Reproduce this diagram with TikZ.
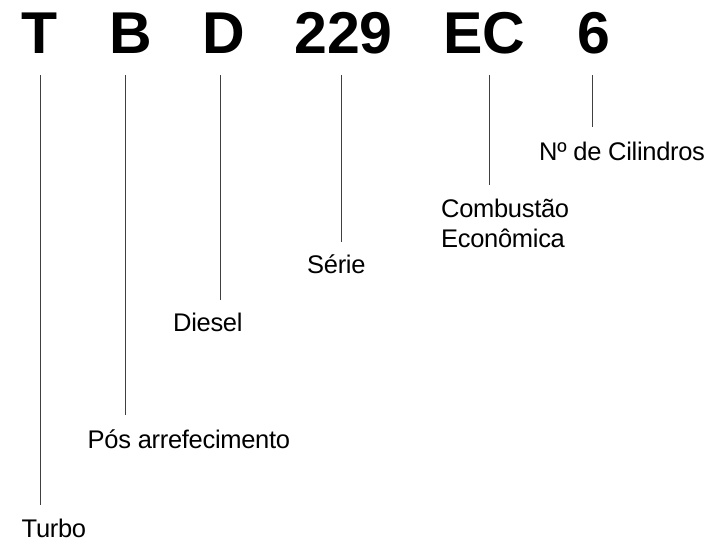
\documentclass[tikz,border=0pt]{standalone}
\usepackage{fontspec}
\setmainfont{Liberation Sans}
\begin{document}
\begin{tikzpicture}[x=1pt,y=-1pt,
  code/.style={font=\fontsize{59}{59}\selectfont\bfseries, inner sep=0pt, anchor=base},
  lbl/.style={font=\fontsize{25.5}{30}\selectfont\addfontfeature{LetterSpace=-1.2}, inner sep=0pt, anchor=base west},
  lead/.style={draw=black!75, line width=0.9pt}]
\useasboundingbox (0,0) rectangle (726,542);
% code letters
\node[code] (cT) at (40,53) {T};
\node[code] (cB) at (130.5,53) {B};
\node[code] (cD) at (223.5,53) {D};
\node[code] (c229) at (343.5,53) {229};
\node[code] (cEC) at (484,53) {EC};
\node[code] (c6) at (594,53) {6};
% labels
\node[lbl] (lTurbo) at (21.5,537) {Turbo};
\node[lbl] (lPos) at (87.5,448) {Pós arrefecimento};
\node[lbl] (lDiesel) at (173,331) {Diesel};
\node[lbl] (lSerie) at (307,273) {Série};
\node[lbl] (lComb) at (441,217) {Combustão};
\node[lbl] (lEcon) at (441,247) {Econômica};
\node[lbl] (lCil) at (539,160) {Nº de Cilindros};
% leader ends
\coordinate (tT) at (40,75);   \coordinate (bT) at (40,505);
\coordinate (tB) at (125,75);  \coordinate (bB) at (125,415);
\coordinate (tD) at (220,75);  \coordinate (bD) at (220,300);
\coordinate (t229) at (341,75); \coordinate (b229) at (341,242);
\coordinate (tEC) at (489,75); \coordinate (bEC) at (489,185);
\coordinate (t6) at (592,75);  \coordinate (b6) at (592,127);
\draw[lead] (tT) -- (bT);
\draw[lead] (tB) -- (bB);
\draw[lead] (tD) -- (bD);
\draw[lead] (t229) -- (b229);
\draw[lead] (tEC) -- (bEC);
\draw[lead] (t6) -- (b6);
\end{tikzpicture}
\end{document}
